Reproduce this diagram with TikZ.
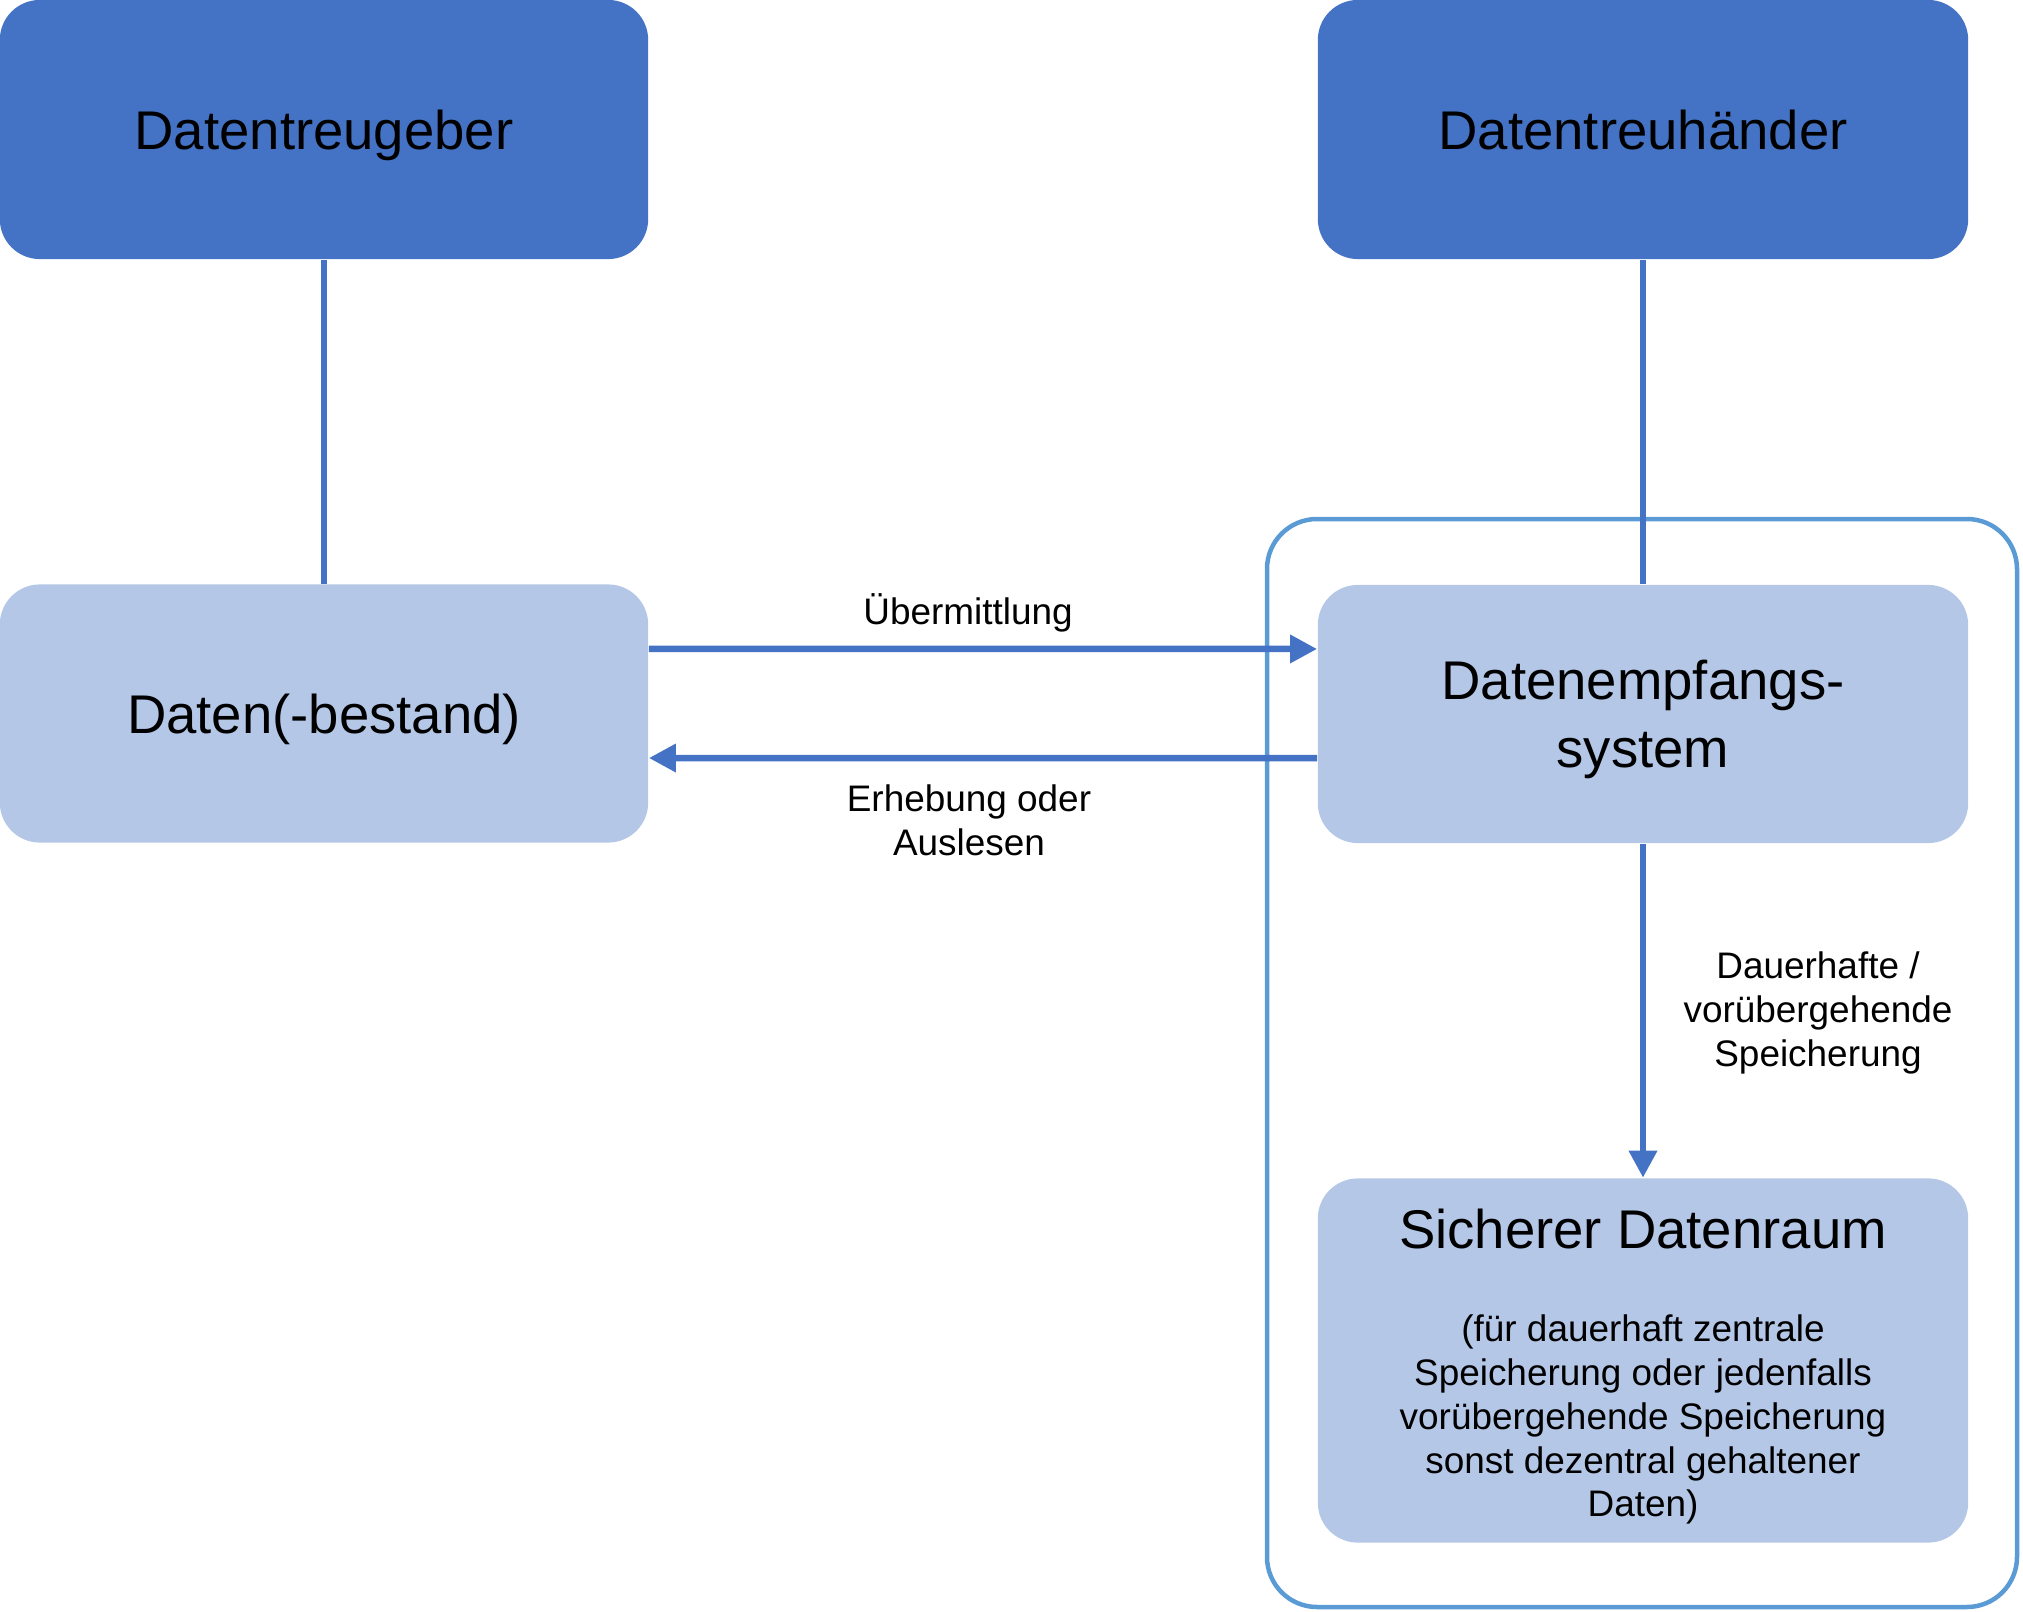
\documentclass[tikz,border=0pt]{standalone}
\usepackage{fontspec}
\setmainfont{Liberation Sans}
\usetikzlibrary{arrows.meta,calc}
\definecolor{darkblue}{HTML}{4472C4}
\definecolor{lightblue}{HTML}{B4C7E7}
\definecolor{framebl}{HTML}{5B9BD5}
\tikzset{
  darkbox/.style={fill=darkblue, rounded corners=0.4cm, minimum height=2.59cm, inner sep=0pt,
    font=\fontsize{15.5}{19.3}\selectfont, text height=11.3pt, text depth=0pt},
  lightbox/.style={fill=lightblue, rounded corners=0.4cm, inner sep=0pt,
    font=\fontsize{15.5}{19.3}\selectfont, align=center},
  conn/.style={draw=darkblue, line width=0.065cm},
  arr/.style={conn, -{Triangle[length=0.27cm, width=0.27cm]}},
  lbl/.style={font=\fontsize{10.5}{12.5}\selectfont, align=center, inner sep=0pt},
  bigtxt/.style={font=\fontsize{15.5}{19.3}\selectfont, align=center, inner sep=0pt},
  container/.style={draw=framebl, line width=0.045cm, rounded corners=0.5cm}
}
\begin{document}
\begin{tikzpicture}[x=0.01cm, y=-0.01cm]
\useasboundingbox (0,0) rectangle (2023,1612);
% outer container
\draw[container] (1267,519) rectangle (2017,1607);
% boxes
\node[darkbox, minimum width=6.48cm] (geber) at (324,129.5) {Datentreugeber};
\node[darkbox, minimum width=6.5cm] (haender) at (1643,129.5) {Datentreuhänder};
\node[lightbox, minimum width=6.48cm, minimum height=2.58cm, text height=11.3pt, text depth=0pt] (daten) at (324,713.5) {Daten(-bestand)};
\node[lightbox, minimum width=6.5cm, minimum height=2.58cm, text depth=0pt] (empf) at (1643,714) {Datenempfangs-\\system};
\node[lightbox, minimum width=6.5cm, minimum height=3.64cm] (raum) at (1643,1360.5) {};
\node[bigtxt] (raumtitle) at (1643,1229.5) {Sicherer Datenraum};
\node[lbl] (raumbody) at (1643,1419.5) {(für dauerhaft zentrale\\Speicherung oder jedenfalls\\vorübergehende Speicherung\\sonst dezentral gehaltener\\Daten)};
% connectors
\draw[conn] (geber.south) -- (daten.north);
\draw[conn] (haender.south) -- (empf.north);
\draw[arr] ([yshift=0.645cm]daten.east) -- ([yshift=0.65cm]empf.west);
\draw[arr] ([yshift=-0.44cm]empf.west) -- ([yshift=-0.445cm]daten.east);
\draw[arr] (empf.south) -- (raum.north);
% labels
\node[lbl] (l1) at (968,613) {Übermittlung};
\node[lbl] (l2) at (969,820.5) {Erhebung oder\\Auslesen};
\node[lbl] (l3) at (1818,1013) {Dauerhafte /\\vorübergehende\\Speicherung};
\end{tikzpicture}
\end{document}
